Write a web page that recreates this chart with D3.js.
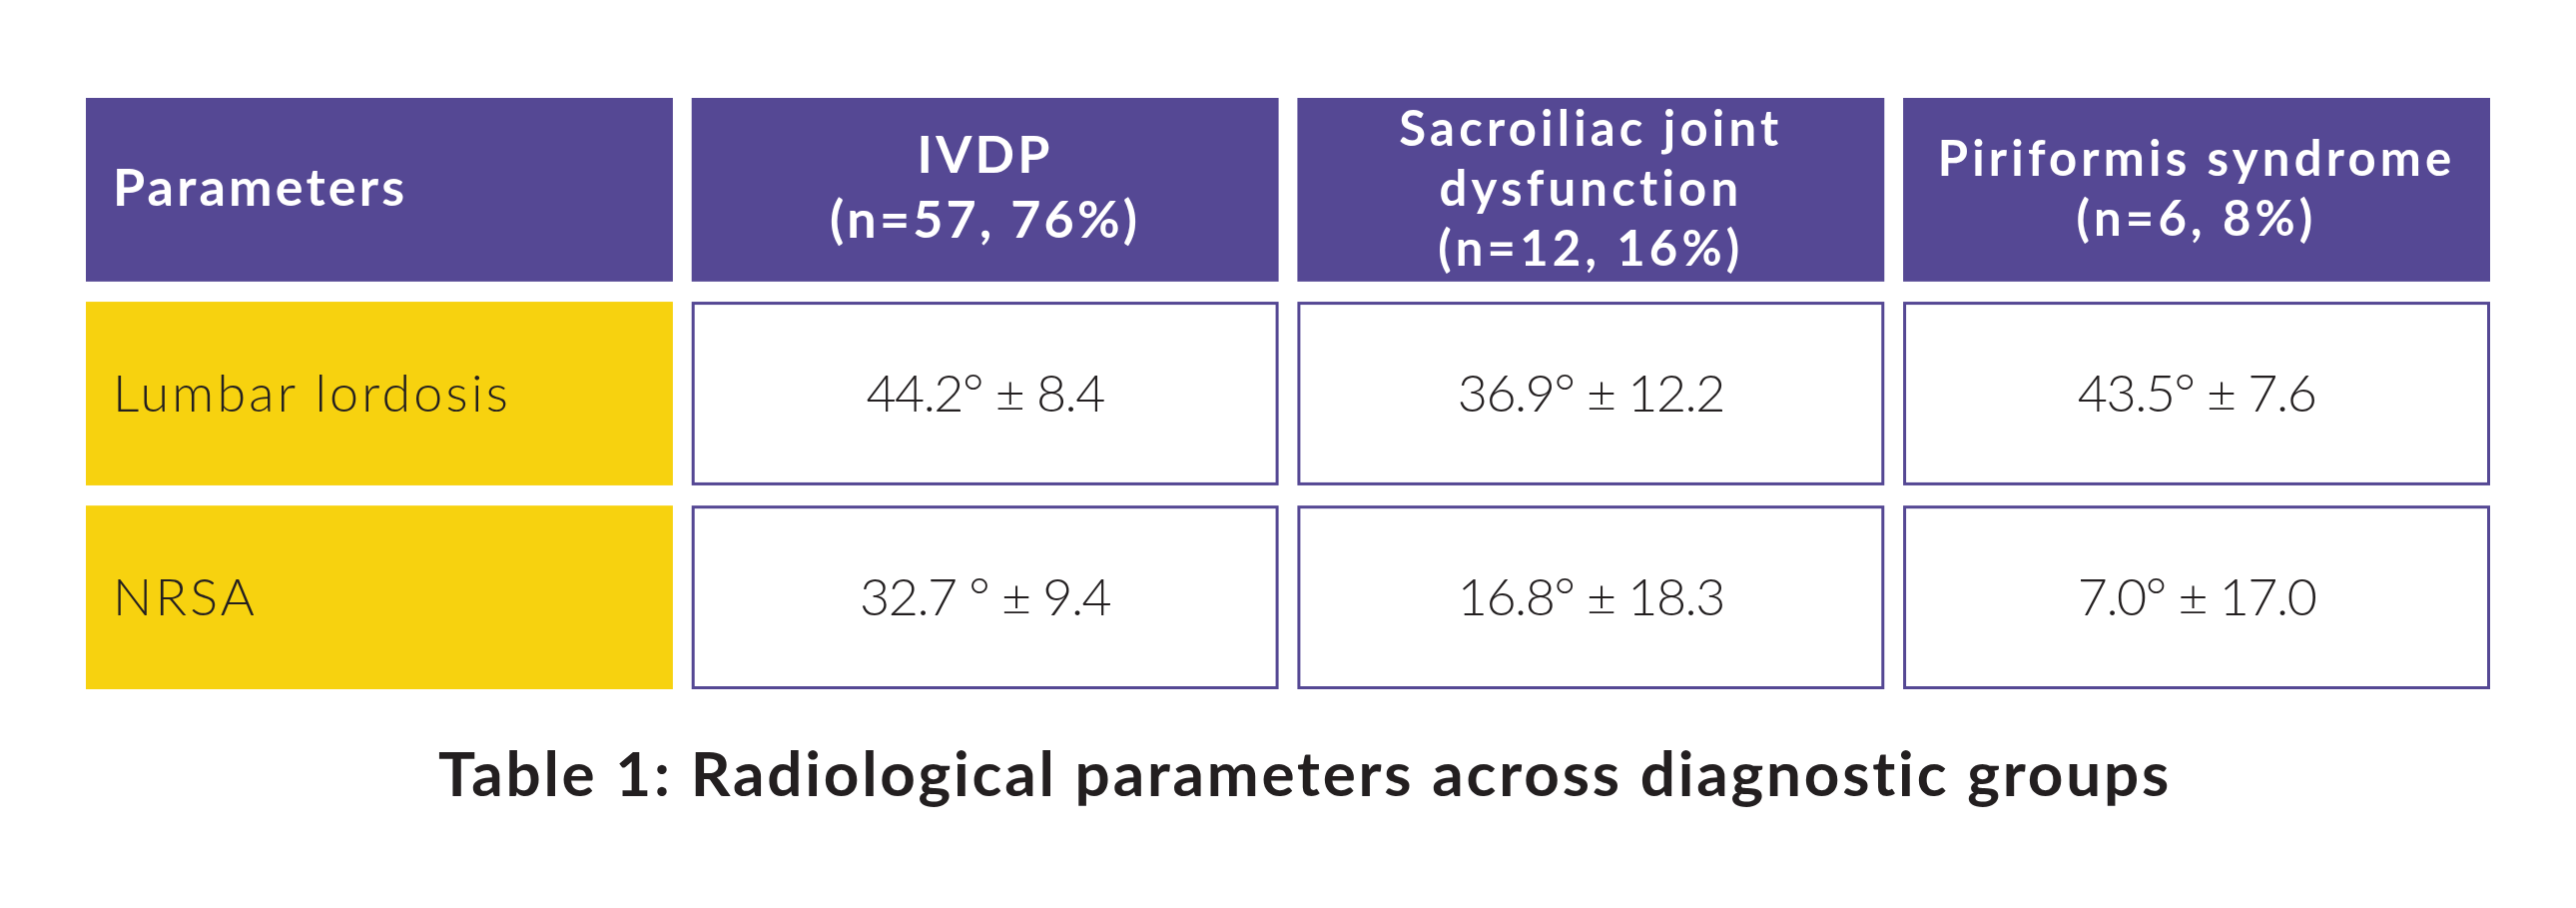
<!DOCTYPE html>
<html>
<head>
<meta charset="utf-8">
<script src="https://cdn.jsdelivr.net/npm/d3@7"></script>
<style>
  body { margin: 0; background: #fff; }
  text { font-family: Lato, "Open Sans", sans-serif; }
</style>
</head>
<body>
<div id="chart-area"></div>
<script>
// table contents
const columnKeys = ["param", "ivdp", "sij", "piri"]
const headerLines = [
    ["Parameters"],
    ["IVDP", "(n=57, 76%)"],
    ["Sacroiliac joint", "dysfunction", "(n=12, 16%)"],
    ["Piriformis syndrome", "(n=6, 8%)"]
]
const rowLabels = ["Lumbar lordosis", "NRSA"]
const lordosisValues = ["44.2° ± 8.4", "36.9° ± 12.2", "43.5° ± 7.6"]
const nrsaValues = ["32.7 ° ± 9.4", "16.8° ± 18.3", "7.0° ± 17.0"]
const captionText = "Table 1: Radiological parameters across diagnostic groups"

const rows = [
    { label: rowLabels[0], values: lordosisValues },
    { label: rowLabels[1], values: nrsaValues }
]

const svgWidth = 2580
const svgHeight = 909
const purple = "#554894"
const yellow = "#f7d20f"
const ink = "#231f20"

// header type per column: line spacing, size, tracking
const headerGap = [0, 65, 60, 60]
const headerSize = [52, 52, 49, 49]
const headerTrack = [3.2, 3.2, 4.2, 4.2]

const svg = d3.select("#chart-area")
    .append("svg")
    .attr("width", svgWidth)
    .attr("height", svgHeight)

const xScale = d3.scaleBand()
    .domain(columnKeys)
    .range([86, 2494])
    .paddingInner(0.031)

const yScale = d3.scaleBand()
    .domain(["header", ...rowLabels])
    .range([98, 690])
    .paddingInner(0.099)

const bw = xScale.bandwidth()
const bh = yScale.bandwidth()

// header row
const header = svg.append("g").attr("class", "header")

header.selectAll("rect")
    .data(columnKeys)
    .join("rect")
    .attr("x", d => xScale(d))
    .attr("y", yScale("header"))
    .attr("width", bw)
    .attr("height", bh)
    .attr("fill", purple)

const headerItems = headerLines.flatMap((lines, i) =>
    lines.map((line, j) => ({ col: i, key: columnKeys[i], line, j, n: lines.length })))

header.selectAll("text")
    .data(headerItems)
    .join("text")
    .attr("x", d => d.col == 0 ? xScale(d.key) + 27 : xScale(d.key) + bw / 2)
    .attr("y", d => yScale("header") + bh / 2 + 16 + (d.j - (d.n - 1) / 2) * headerGap[d.col])
    .attr("text-anchor", d => d.col == 0 ? "start" : "middle")
    .attr("fill", "#fff")
    .attr("font-size", d => headerSize[d.col])
    .attr("font-weight", 700)
    .attr("letter-spacing", d => headerTrack[d.col])
    .text(d => d.line)

// body rows
const body = svg.append("g").attr("class", "body")

const rowG = body.selectAll("g")
    .data(rows)
    .join("g")
    .attr("transform", d => `translate(0,${yScale(d.label)})`)

rowG.append("rect")
    .attr("x", xScale("param"))
    .attr("y", 0)
    .attr("width", bw)
    .attr("height", bh)
    .attr("fill", yellow)

rowG.append("text")
    .attr("x", xScale("param") + 27)
    .attr("y", bh / 2 + 18)
    .attr("fill", ink)
    .attr("font-size", 52)
    .attr("font-weight", 300)
    .attr("letter-spacing", 3.2)
    .text(d => d.label)

const cells = rowG.selectAll("g.cell")
    .data(d => d.values)
    .join("g")
    .attr("class", "cell")
    .attr("transform", (d, i) => `translate(${xScale(columnKeys[i + 1])},0)`)

cells.append("rect")
    .attr("x", 1.5)
    .attr("y", 1.5)
    .attr("width", bw - 3)
    .attr("height", bh - 3)
    .attr("fill", "#fff")
    .attr("stroke", purple)
    .attr("stroke-width", 3)

cells.append("text")
    .attr("x", bw / 2)
    .attr("y", bh / 2 + 18)
    .attr("text-anchor", "middle")
    .attr("fill", ink)
    .attr("font-size", 52)
    .attr("font-weight", 300)
    .attr("letter-spacing", -1.5)
    .text(d => d)

// caption
svg.append("text")
    .attr("x", 1307)
    .attr("y", 797)
    .attr("text-anchor", "middle")
    .attr("fill", ink)
    .attr("font-size", 62)
    .attr("font-weight", 700)
    .attr("letter-spacing", 2.8)
    .text(captionText)
</script>
</body>
</html>
